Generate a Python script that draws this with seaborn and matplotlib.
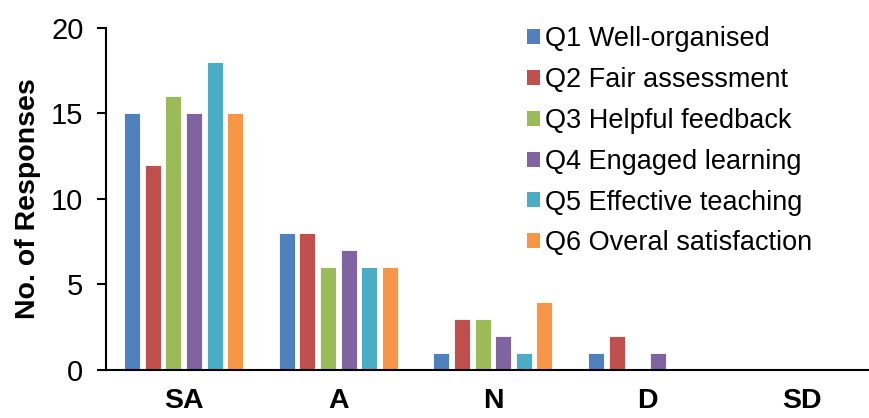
import matplotlib
matplotlib.use("Agg")
import matplotlib.pyplot as plt
import seaborn as sns
import pandas as pd

# Survey responses per rating level for each question
ratings = ["SA", "A", "N", "D", "SD"]
questions = [
    "Q1 Well-organised",
    "Q2 Fair assessment",
    "Q3 Helpful feedback",
    "Q4 Engaged learning",
    "Q5 Effective teaching",
    "Q6 Overal satisfaction",
]
q1 = [15, 8, 1, 1, 0]
q2 = [12, 8, 3, 2, 0]
q3 = [16, 6, 3, 0, 0]
q4 = [15, 7, 2, 1, 0]
q5 = [18, 6, 1, 0, 0]
q6 = [15, 6, 4, 0, 0]
y_ticks = [0, 5, 10, 15, 20]

colors = ["#4F81BD", "#C0504D", "#9BBB59", "#8064A2", "#4BACC6", "#F79646"]

series = [q1, q2, q3, q4, q5, q6]
rows = []
for q, vals in zip(questions, series):
    for r, v in zip(ratings, vals):
        rows.append({"Rating": r, "Question": q, "Responses": v})
df = pd.DataFrame(rows)

sns.set_style("white")
plt.rcParams["font.family"] = ["Liberation Sans", "DejaVu Sans"]
plt.rcParams["text.color"] = "black"
plt.rcParams["axes.labelcolor"] = "black"
plt.rcParams["xtick.color"] = "black"
plt.rcParams["ytick.color"] = "black"

fig = plt.figure(figsize=(8.69, 4.18), dpi=100)
ax = fig.add_axes([0.1224, 0.1148, 0.8896, 0.8187])

sns.barplot(
    data=df, x="Rating", y="Responses", hue="Question",
    order=ratings, hue_order=questions, palette=colors, saturation=1,
    width=0.8, gap=0.22, dodge=True, errorbar=None,
    edgecolor="white", linewidth=0.6, ax=ax,
)

ax.set_xlim(-0.5, 4.5)
ax.set_ylim(0, 20)
ax.set_yticks(y_ticks)
ax.set_xlabel("")
ax.set_ylabel("No. of Responses", fontsize=20.5, fontweight="bold", labelpad=7)

for side in ("top", "right"):
    ax.spines[side].set_visible(False)
for side in ("left", "bottom"):
    ax.spines[side].set_color("black")
    ax.spines[side].set_linewidth(1.5)

ax.tick_params(axis="y", which="major", direction="out", length=6.5, width=1.5,
               color="black", labelcolor="black", labelsize=21, pad=10, left=True)
ax.tick_params(axis="x", which="major", length=0, labelsize=20.5, labelcolor="black", pad=13)
for lbl in ax.get_xticklabels():
    lbl.set_fontweight("bold")

leg = ax.legend(
    loc="upper left", bbox_to_anchor=(527 / 869, 1 - 26 / 418),
    bbox_transform=fig.transFigure, frameon=False, fontsize=19.5,
    handlelength=0.48, handleheight=0.48, handletextpad=0.2,
    labelspacing=0.55, borderaxespad=0, borderpad=0,
)
for h in leg.legend_handles:
    h.set_edgecolor("none")
for t in leg.get_texts():
    t.set_color("black")

fig.savefig("out.png", dpi=100)
